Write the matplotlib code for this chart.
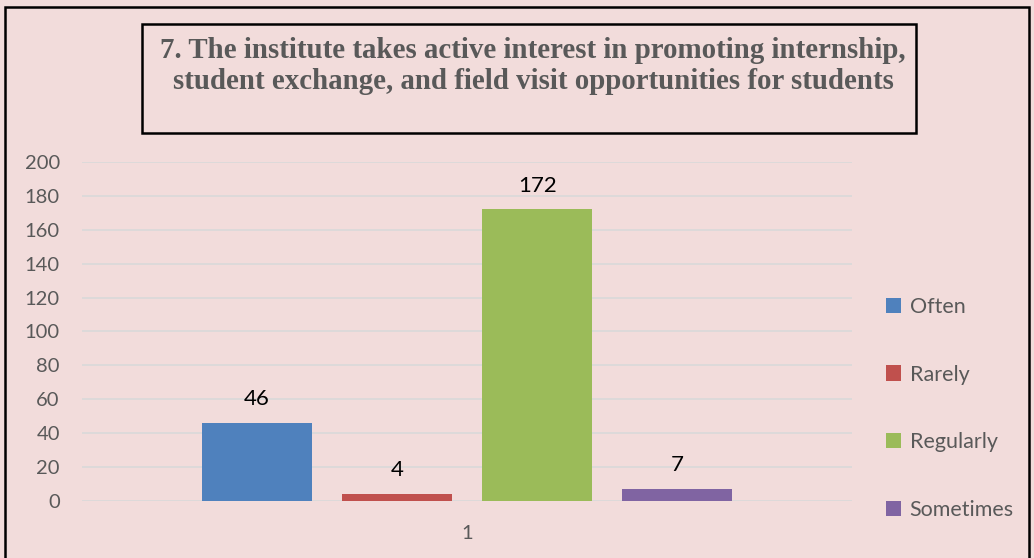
import matplotlib.pyplot as plt
from matplotlib.patches import Rectangle

categories = ["1"]
series = ["Often", "Rarely", "Regularly", "Sometimes"]
values = [46, 4, 172, 7]
colors = ["#4F81BD", "#C0504D", "#9BBB59", "#8064A2"]
title = ("7. The institute takes active interest in promoting internship,\n"
         "student exchange, and field visit opportunities for students")

bg = "#F2DCDB"
txt = "#595959"

fig = plt.figure(figsize=(10.34, 5.58), dpi=100, facecolor=bg)
ax = fig.add_axes([0.0793, 0.1022, 0.745, 0.6075], facecolor=bg)

width = 0.1429
step = 0.1818
bars = []
for i, (name, v, c) in enumerate(zip(series, values, colors)):
    off = (i - 1.5) * step
    b = ax.bar(0 + off, v, width=width, color=c, label=name, zorder=3)
    bars.append(b)
    ax.bar_label(b, padding=10, fontsize=16, color="black", family="Lato")

ax.set_xlim(-0.5, 0.5)
ax.set_ylim(0, 200)
ax.set_yticks(range(0, 201, 20))
ax.set_xticks([0])
ax.set_xticklabels(categories)
ax.yaxis.grid(True, color="#D9D9D9", linewidth=1.2, zorder=0)
for s in ax.spines.values():
    s.set_visible(False)
ax.tick_params(length=0, labelsize=14.5, labelcolor=txt)
ax.tick_params(axis="x", pad=17)
ax.tick_params(axis="y", pad=16)
for lab in ax.get_xticklabels() + ax.get_yticklabels():
    lab.set_family("Lato")

leg = fig.legend(handles=bars, labels=series, loc="center left",
                 bbox_to_anchor=(0.838, 0.268), frameon=False,
                 handlelength=0.7, handleheight=0.7, handletextpad=0.4,
                 labelspacing=2.22, prop={"family": "Lato", "size": 15.5})
for t in leg.get_texts():
    t.set_color(txt)

# title box
fig.patches.append(Rectangle((142 / 1034, 1 - 133 / 558), 774 / 1034, 109 / 558,
                             transform=fig.transFigure, fill=False,
                             edgecolor="black", linewidth=1.8))
fig.text(533 / 1034, 1 - 66 / 558, title, ha="center", va="center",
         family="Liberation Serif", weight="bold", fontsize=20.8,
         color=txt, linespacing=1.2)

# outer border
fig.patches.append(Rectangle((5 / 1034, -0.01), 1024 / 1034, 1 - 7 / 558 + 0.01,
                             transform=fig.transFigure, fill=False,
                             edgecolor="black", linewidth=1.8))

fig.savefig("out.png", dpi=100, facecolor=bg)
